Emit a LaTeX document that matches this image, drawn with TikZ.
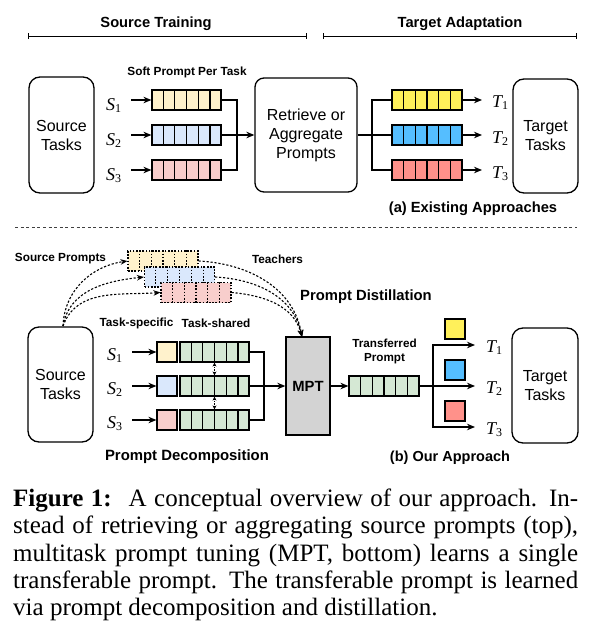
\documentclass[tikz,border=0pt]{standalone}
\usepackage{fontspec}
\setmainfont{Liberation Serif}
\newfontfamily\hv{Liberation Sans}
\usetikzlibrary{calc,arrows.meta}
\definecolor{ly}{HTML}{FFF2CC}
\definecolor{lb}{HTML}{DAE8FC}
\definecolor{lr}{HTML}{F8CECC}
\definecolor{lg}{HTML}{D5E8D4}
\definecolor{by}{HTML}{FFF05A}
\definecolor{bb}{HTML}{55BEFF}
\definecolor{br}{HTML}{FF918A}
\definecolor{mg}{HTML}{D3D3D3}
\newcommand\subl[2]{{\itshape #1}\raisebox{-2.5pt}{\fontsize{12}{12}\selectfont #2}}
\newcommand\cellbar[6]{%
  \node[bar, minimum width=#3, fill=#4, #6] (#1) at (#2) {};
  \foreach \k in {1,...,#5} {\draw[barln,#6] ($(#1.north west)!\k/(#5+1)!(#1.north east)$) -- ($(#1.south west)!\k/(#5+1)!(#1.south east)$);}%
}
\newsavebox\capbox
\newcommand\jline[1]{\sbox\capbox{#1}\ifdim\wd\capbox>565pt\resizebox{565pt}{\height}{\usebox\capbox}\else\makebox[565pt][s]{#1}\fi}
\tikzset{
  hd/.style={font=\hv\bfseries\fontsize{14.7}{17}\selectfont, inner sep=0},
  sm/.style={font=\hv\bfseries\fontsize{11.8}{14}\selectfont, inner sep=0, align=center},
  tbox/.style={draw, line width=1.3pt, rounded corners=11pt, align=center, font=\hv\fontsize{16}{19}\selectfont, inner sep=0},
  bar/.style={draw, line width=1.2pt, minimum height=20pt, inner sep=0},
  barln/.style={line width=1.2pt},
  sq/.style={draw, line width=1.2pt, minimum width=20pt, minimum height=20pt, inner sep=0},
  ln/.style={line width=1.3pt},
  arr/.style={line width=1.3pt, -{Stealth[length=8pt,width=6.5pt]}},
  dotl/.style={line width=1.1pt, dash pattern=on 1.6pt off 1.6pt},
  darr/.style={line width=1.1pt, dash pattern=on 2.2pt off 1.8pt, -{Stealth[length=7pt,width=5.5pt]}},
  varr/.style={line width=0.9pt, dash pattern=on 1.2pt off 1pt, {Stealth[length=4pt,width=4pt]}-{Stealth[length=4pt,width=4pt]}},
  brk/.style={line width=1pt, {Bar[width=6pt]}-{Bar[width=6pt]}},
  ml/.style={font=\fontsize{18}{18}\selectfont, inner sep=0, anchor=base west},
  captxt/.style={font=\fontsize{25}{27}\selectfont, inner sep=0, anchor=base west},
}
\begin{document}
\begin{tikzpicture}[x=1pt,y=-1pt]
\useasboundingbox (0,0) rectangle (593,635);
% headers
\node[hd] (hST) at (156,24) {Source Training};
\node[hd] (hTA) at (460,24) {Target Adaptation};
\coordinate (stL) at (28,36); \coordinate (stR) at (307,36);
\coordinate (taL) at (323,36); \coordinate (taR) at (577,36);
\draw[brk] (stL) -- (stR);
\draw[brk] (taL) -- (taR);
% (a) existing approaches
\node[tbox, minimum width=65pt, minimum height=116pt] (srcA) at (61.5,135) {Source\\Tasks};
\node[sm] (spt) at (187,72) {Soft Prompt Per Task};
\node[ml] (sa1) at (106,110) {\subl{S}{1}};
\node[ml] (sa2) at (106,145) {\subl{S}{2}};
\node[ml] (sa3) at (106,180) {\subl{S}{3}};
\cellbar{p1}{186.5,100}{69pt}{ly}{5}{}
\cellbar{p2}{186.5,135}{69pt}{lb}{5}{}
\cellbar{p3}{186.5,170}{69pt}{lr}{5}{}
\draw[arr] (sa1.east |- p1.west) ++(10,0) -- (p1.west);
\draw[arr] (sa2.east |- p2.west) ++(10,0) -- (p2.west);
\draw[arr] (sa3.east |- p3.west) ++(10,0) -- (p3.west);
\node[tbox, minimum width=102pt, minimum height=114pt, rounded corners=9pt] (rt) at (306,135) {Retrieve or\\Aggregate\\Prompts};
\coordinate (ma) at (237,135);
\draw[ln] (p1.east) -| (ma);
\draw[ln] (p3.east) -| (ma);
\draw[arr] (p2.east) -- (rt.west);
\cellbar{q1}{427,100}{70pt}{by}{5}{}
\cellbar{q2}{427,135}{70pt}{bb}{5}{}
\cellbar{q3}{427,170}{70pt}{br}{5}{}
\coordinate (ba) at (372,135);
\draw[ln] (rt.east) -- (q2.west);
\draw[ln] (ba) |- (q1.west);
\draw[ln] (ba) |- (q3.west);
\node[ml] (ta1) at (492,107) {\subl{T}{1}};
\node[ml] (ta2) at (492,143) {\subl{T}{2}};
\node[ml] (ta3) at (492,178) {\subl{T}{3}};
\coordinate (ea1) at (482,100); \coordinate (ea2) at (482,135); \coordinate (ea3) at (482,170);
\draw[arr] (q1.east) -- (ea1);
\draw[arr] (q2.east) -- (ea2);
\draw[arr] (q3.east) -- (ea3);
\node[tbox, minimum width=65pt, minimum height=114pt] (tgtA) at (545.5,136) {Target\\Tasks};
\node[hd] (capa) at (473,209) {(a) Existing Approaches};
% separator
\coordinate (sepL) at (15,227); \coordinate (sepR) at (577,227);
\draw[line width=1pt, black!75, dash pattern=on 3pt off 2.6pt] (sepL) -- (sepR);
% (b) our approach
\node[tbox, minimum width=65pt, minimum height=115pt] (srcB) at (60.5,384.5) {Source\\Tasks};
\node[sm] (spl) at (60.5,259) {Source Prompts};
\node[sm] (tch) at (277.5,259) {Teachers};
\cellbar{d1}{163,261}{70pt}{ly}{5}{dotl}
\cellbar{d2}{179.5,277}{70pt}{lb}{5}{dotl}
\cellbar{d3}{196,292.5}{70pt}{lr}{5}{dotl}
\coordinate (so) at (63,326);
\draw[darr] (so) to[out=88,in=188] (d1.west);
\draw[darr] (so) to[out=80,in=186] (d2.west);
\draw[darr] (so) to[out=70,in=184] (d3.west);
\node[draw, line width=1.3pt, fill=mg, minimum width=44pt, minimum height=98pt, inner sep=0, font=\hv\bfseries\fontsize{14.8}{17}\selectfont] (mpt) at (308,386) {MPT};
\coordinate (mt) at (302,337);
\draw[darr] (d1.east) to[out=-3,in=100] (mt);
\draw[darr] (d2.east) to[out=-3,in=102] (mt);
\draw[darr] (d3.east) to[out=-5,in=105] (mt);
\node[hd, font=\hv\bfseries\fontsize{14.8}{17}\selectfont] (pdi) at (366,297) {Prompt Distillation};
\node[sm] (tsp) at (136.5,323) {Task-specific};
\node[sm] (tsh) at (216,323) {Task-shared};
\node[ml] (sb1) at (107,360) {\subl{S}{1}};
\node[ml] (sb2) at (107,394) {\subl{S}{2}};
\node[ml] (sb3) at (107,428) {\subl{S}{3}};
\node[sq, fill=ly] (ts1) at (167,352) {};
\node[sq, fill=lb] (ts2) at (167,386) {};
\node[sq, fill=lr] (ts3) at (167,420) {};
\draw[arr] (sb1.east |- ts1.west) ++(10,0) -- (ts1.west);
\draw[arr] (sb2.east |- ts2.west) ++(10,0) -- (ts2.west);
\draw[arr] (sb3.east |- ts3.west) ++(10,0) -- (ts3.west);
\cellbar{sh1}{214.5,352}{69pt}{lg}{5}{}
\cellbar{sh2}{214.5,386}{69pt}{lg}{5}{}
\cellbar{sh3}{214.5,420}{69pt}{lg}{5}{}
\draw[varr] (sh1.south) -- (sh2.north);
\draw[varr] (sh2.south) -- (sh3.north);
\coordinate (mb) at (264,386);
\draw[ln] (sh1.east) -| (mb);
\draw[ln] (sh3.east) -| (mb);
\draw[arr] (sh2.east) -- (mpt.west);
\cellbar{tp}{384,386}{70pt}{lg}{5}{}
\draw[arr] (mpt.east) -- (tp.west);
\node[sm, font=\hv\bfseries\fontsize{11.7}{14}\selectfont] (tpl) at (384.5,351) {Transferred\\Prompt};
\coordinate (bb) at (433,386);
\coordinate (eb1) at (475,345); \coordinate (eb2) at (475,386); \coordinate (eb3) at (475,427);
\draw[ln] (tp.east) -- (bb);
\draw[arr] (bb) |- (eb1);
\draw[arr] (bb) -- (eb2);
\draw[arr] (bb) |- (eb3);
\node[sq, fill=by] (c1) at (455,329) {};
\node[sq, fill=bb] (c2) at (455,370) {};
\node[sq, fill=br] (c3) at (455,411) {};
\node[ml] (tb1) at (486,352) {\subl{T}{1}};
\node[ml] (tb2) at (486,393) {\subl{T}{2}};
\node[ml] (tb3) at (486,434) {\subl{T}{3}};
\node[tbox, minimum width=66pt, minimum height=115pt] (tgtB) at (545,385.5) {Target\\Tasks};
\node[hd, font=\hv\bfseries\fontsize{14.9}{17}\selectfont] (pdc) at (187,457) {Prompt Decomposition};
\node[hd, font=\hv\bfseries\fontsize{14.5}{17}\selectfont] (capb) at (450,458) {(b) Our Approach};
% caption
\node[captxt] (cl1) at (13,506) {\jline{\textbf{Figure 1:}\hspace{0.25em} A conceptual overview of our approach. In-}};
\node[captxt] (cl2) at (13,533) {\jline{stead of retrieving or aggregating source prompts (top),}};
\node[captxt] (cl3) at (13,561) {\jline{multitask prompt tuning (MPT, bottom) learns a single}};
\node[captxt] (cl4) at (13,588) {\jline{transferable prompt. The transferable prompt is learned}};
\node[captxt] (cl5) at (13,615) {via prompt decomposition and distillation.};
\end{tikzpicture}
\end{document}
